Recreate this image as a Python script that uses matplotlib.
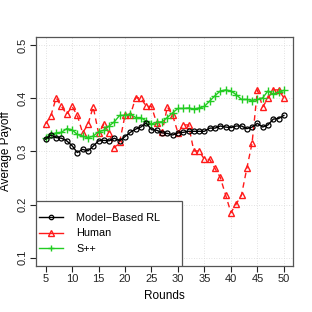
import numpy as np
import matplotlib
matplotlib.use("Agg")
import matplotlib.pyplot as plt
from matplotlib.patches import Rectangle
from matplotlib.lines import Line2D

plt.rcParams['font.family'] = ['Liberation Sans', 'DejaVu Sans']

rounds = list(range(5, 51))

model_rl = [0.323, 0.331, 0.326, 0.325, 0.320, 0.311, 0.298, 0.304, 0.301, 0.310,
            0.320, 0.321, 0.320, 0.325, 0.320, 0.328, 0.336, 0.342, 0.346, 0.354,
            0.341, 0.340, 0.335, 0.334, 0.331, 0.335, 0.336, 0.338, 0.338, 0.338,
            0.338, 0.344, 0.344, 0.348, 0.346, 0.345, 0.348, 0.348, 0.343, 0.346,
            0.353, 0.346, 0.350, 0.361, 0.362, 0.368]

human = [0.352, 0.367, 0.401, 0.385, 0.370, 0.385, 0.368, 0.335, 0.351, 0.384,
         0.335, 0.351, 0.335, 0.307, 0.318, 0.368, 0.368, 0.401, 0.401, 0.385,
         0.385, 0.353, 0.336, 0.384, 0.368, 0.335, 0.350, 0.350, 0.301, 0.301,
         0.285, 0.285, 0.268, 0.251, 0.218, 0.185, 0.201, 0.218, 0.268, 0.316,
         0.416, 0.384, 0.400, 0.416, 0.416, 0.401]

spp = [0.326, 0.332, 0.335, 0.336, 0.343, 0.341, 0.332, 0.329, 0.326, 0.329,
       0.337, 0.340, 0.348, 0.356, 0.368, 0.368, 0.371, 0.364, 0.364, 0.357,
       0.352, 0.355, 0.356, 0.364, 0.373, 0.381, 0.381, 0.382, 0.380, 0.382,
       0.385, 0.395, 0.405, 0.414, 0.416, 0.414, 0.407, 0.398, 0.398, 0.396,
       0.398, 0.401, 0.414, 0.408, 0.412, 0.415]

labels = ['Model\u2212Based RL', 'Human', 'S++']
colors = ['black', '#ff1a1a', '#22cc22']

fig = plt.figure(figsize=(3.12, 3.12), dpi=100)
ax = fig.add_axes([0.1154, 0.147, 0.825, 0.735])

xt = np.arange(5, 51, 5)
yt = [0.1, 0.2, 0.3, 0.4, 0.5]
for v in xt:
    ax.axvline(v, color='#d8d8d8', lw=0.6, ls=(0, (1, 2)), zorder=0)
for v in yt:
    ax.axhline(v, color='#d8d8d8', lw=0.6, ls=(0, (1, 2)), zorder=0)

ax.plot(rounds, model_rl, color=colors[0], lw=1.0, marker='o', ms=3.6,
        mfc='none', mew=0.9, zorder=3)
ax.plot(rounds, human, color=colors[1], lw=1.0, ls=(0, (4, 3)), marker='^', ms=4.2,
        mfc='none', mew=1.0, zorder=2)
ax.plot(rounds, spp, color=colors[2], lw=1.0, marker='+', ms=5.5,
        mew=1.0, zorder=2)

ax.set_xlim(3.2, 51.8)
ax.set_ylim(0.084, 0.516)
ax.set_xticks(xt)
ax.set_yticks(yt)
ax.set_yticklabels([str(v) for v in yt], rotation=90, va='center')
ax.tick_params(direction='out', length=4, width=0.8, labelsize=8, colors='#222222', pad=2)
for s in ax.spines.values():
    s.set_color('#555555')
    s.set_linewidth(0.9)

ax.set_xlabel('Rounds', fontsize=8.5, labelpad=4)
fig.text(0.018, 0.515, 'Average Payoff', fontsize=8.5, rotation=90, ha='center', va='center')

# legend box drawn by hand (R style: wide vertical padding), solid legend lines
ax.add_patch(Rectangle((0, 0), 0.569, 0.285, transform=ax.transAxes, fill=True,
                       facecolor='white', edgecolor='#555555', lw=0.9, zorder=4))
handles = [Line2D([], [], color=colors[0], lw=1.0, marker='o', ms=3.2, mfc='none', mew=0.9),
           Line2D([], [], color=colors[1], lw=1.0, marker='^', ms=3.8, mfc='none', mew=1.0),
           Line2D([], [], color=colors[2], lw=1.0, marker='+', ms=5.0, mew=1.0)]
leg = ax.legend(handles, labels, loc='center left', bbox_to_anchor=(0.0, 0.1425),
                fontsize=7.8, frameon=False, borderaxespad=0, handlelength=2.2,
                borderpad=0.3, labelspacing=0.5, handletextpad=1.2)
leg.set_zorder(5)

fig.savefig('out.png', dpi=100)
